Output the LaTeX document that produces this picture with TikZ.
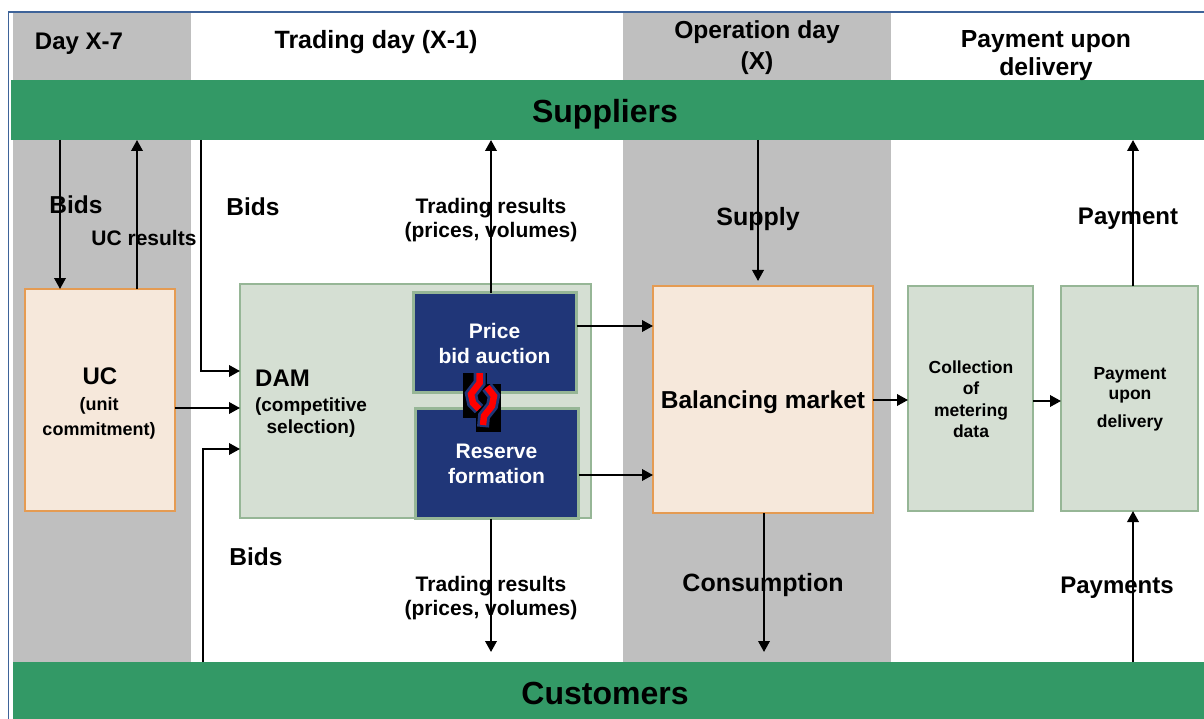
\documentclass[tikz,border=0pt]{standalone}
\usepackage{fontspec}
\setmainfont{Liberation Sans}
\usetikzlibrary{arrows.meta}
\definecolor{bandgrey}{HTML}{BFBFBF}
\definecolor{bargreen}{HTML}{339966}
\definecolor{peach}{HTML}{F6E8DB}
\definecolor{peachline}{HTML}{E59B52}
\definecolor{sage}{HTML}{D5DFD3}
\definecolor{sageline}{HTML}{96B696}
\definecolor{navy}{HTML}{203678}
\definecolor{frameblue}{HTML}{3E6399}
\tikzset{
  lbl/.style={font=\fontsize{#1}{#1}\bfseries, align=center, inner sep=0pt, text depth=0pt},
  bar/.style={fill=bargreen, minimum height=#1, inner sep=0pt, outer sep=0pt, anchor=north west},
  box/.style={draw=#1, line width=1.3pt, inner sep=0pt, outer sep=0pt, anchor=north west},
  link/.style={-{Triangle[length=11pt,width=11.5pt]}, line width=2pt}
}
\begin{document}
\begin{tikzpicture}[x=1pt, y=-1pt]
\useasboundingbox (0,0) rectangle (1204,719);
% Bands
    \fill[white] (0,0) rectangle (1204,719);
    \fill[bandgrey] (13,12) rectangle (191,662);
    \fill[bandgrey] (623,12) rectangle (891,662);
    \draw[frameblue, line width=1.5pt] (8.5,719) -- (8.5,12) -- (1204,12);
% Bars
    \node[bar=60pt, minimum width=1193pt] (suppliers) at (11,80) {};
    \node[bar=57pt, minimum width=1191pt] (customers) at (13,662) {};
% Boxes
    \node[box=peachline, fill=peach, minimum width=150pt, minimum height=222pt] (uc) at (25,289) {};
    \node[box=sageline, fill=sage, minimum width=351pt, minimum height=234pt] (dam) at (240,284) {};
    \node[box=sageline, line width=3pt, fill=navy, minimum width=163pt, minimum height=100pt] (price) at (413.5,292.5) {};
    \node[box=sageline, line width=3pt, fill=navy, minimum width=163pt, minimum height=110pt] (reserve) at (415.5,408.5) {};
    \node[box=peachline, fill=peach, minimum width=220pt, minimum height=227pt] (balancing) at (653,286) {};
    \node[box=sageline, fill=sage, minimum width=125pt, minimum height=225pt] (metering) at (908,286) {};
    \node[box=sageline, fill=sage, minimum width=137pt, minimum height=225pt] (payment) at (1061,286) {};
% Lines
    \coordinate (ucdown) at (60,0);
    \coordinate (ucup) at (137,0);
    \coordinate (damtop) at (201,371);
    \coordinate (dambot) at (203,449);
    \coordinate (trade) at (491,652);
    \coordinate (supply) at (758,281);
    \coordinate (cons) at (764,652);
    \coordinate (pay) at (1133,0);
    \draw[link] (suppliers.south -| ucdown) -- (uc.north -| ucdown);
    \draw[link] (uc.north -| ucup) -- (suppliers.south -| ucup);
    \draw[link] (suppliers.south -| damtop) -- (damtop) -- (dam.west |- damtop);
    \draw[link] (customers.north -| dambot) -- (dambot) -- (dam.west |- dambot);
    \draw[link] (uc.east |- 0,408) -- (dam.west |- 0,408);
    \draw[link] (price.north -| trade) -- (suppliers.south -| trade);
    \draw[link] (reserve.south -| trade) -- (trade);
    \draw[link] (price.east |- 0,326) -- (balancing.west |- 0,326);
    \draw[link] (reserve.east |- 0,475) -- (balancing.west |- 0,475);
    \draw[link] (suppliers.south -| supply) -- (supply);
    \draw[link] (balancing.south -| cons) -- (cons);
    \draw[link] (balancing.east |- 0,400) -- (metering.west |- 0,400);
    \draw[link] (metering.east |- 0,401) -- (payment.west |- 0,401);
    \draw[link] (payment.north -| pay) -- (suppliers.south -| pay);
    \draw[link] (customers.north -| pay) -- (payment.south -| pay);
% Squiggle
    \fill[black] (463,373) rectangle (487,418);
    \fill[black] (476,384) rectangle (501,432);
    \draw[navy, line width=12pt] (479.5,372) -- (479.5,383) -- (471,394) -- (473,403) -- (479,409);
    \draw[navy, line width=12pt] (487,387) -- (494,396) -- (492,406) -- (484,416) -- (483,427);
    \draw[red, line width=6.5pt] (479.5,373) -- (479.5,383) -- (471,394) -- (473,403) -- (479,409);
    \draw[red, line width=6.5pt] (487,387) -- (494,396) -- (492,406) -- (484,416) -- (483,425);
% Labels
    \node[lbl=24] (hday) at (79,41) {Day X-7};
    \node[lbl=25] (htrade) at (376,39) {Trading day (X-1)};
    \node[lbl=24.6] (hop) at (757,45) {Operation day\\[6pt](X)};
    \node[lbl=24.7] (hpay) at (1046,53) {Payment upon\\[4pt]delivery};
    \node[lbl=32] (lsup) at (605,111) {Suppliers};
    \node[lbl=32] (lcus) at (605,693) {Customers};
    \node[lbl=24.5] (lbids) at (76,205) {Bids};
    \node[lbl=21] (lucres) at (144,238) {UC results};
    \node[lbl=24.5] (lbidsa) at (253,207) {Bids};
    \node[lbl=24.5] (lbidsb) at (256,557) {Bids};
    \node[lbl=21] (ltra) at (491,218) {Trading results\\[3pt](prices, volumes)};
    \node[lbl=21] (ltrb) at (491,596) {Trading results\\[3pt](prices, volumes)};
    \node[lbl=25] (lsupply) at (758,216) {Supply};
    \node[lbl=25] (lcons) at (763,582) {Consumption};
    \node[lbl=24] (lpay) at (1128,216) {Payment};
    \node[lbl=24] (lpays) at (1117,585) {Payments};
    \node[lbl=24] (luc) at (100,376) {UC};
    \node[lbl=18] (lucsub) at (99,416) {(unit\\[7pt]commitment)};
    \node[lbl=24, anchor=west] (ldam) at (255,378) {DAM};
    \node[lbl=19] (ldamsub) at (311,416) {(competitive\\[3pt]selection)};
    \node[lbl=21, text=white] (lprice) at (494.5,343) {Price\\[4pt]bid auction};
    \node[lbl=21, text=white] (lreserve) at (496.5,464) {Reserve\\[4pt]formation};
    \node[lbl=24.5] (lbal) at (763,400) {Balancing market};
    \node[lbl=17.5] (lmet) at (971,399) {Collection\\[4pt]of\\[4pt]metering\\[4pt]data};
    \node[lbl=17.5] (lpaybox) at (1130,397) {Payment\\[3pt]upon\\[10pt]delivery};
\end{tikzpicture}
\end{document}
